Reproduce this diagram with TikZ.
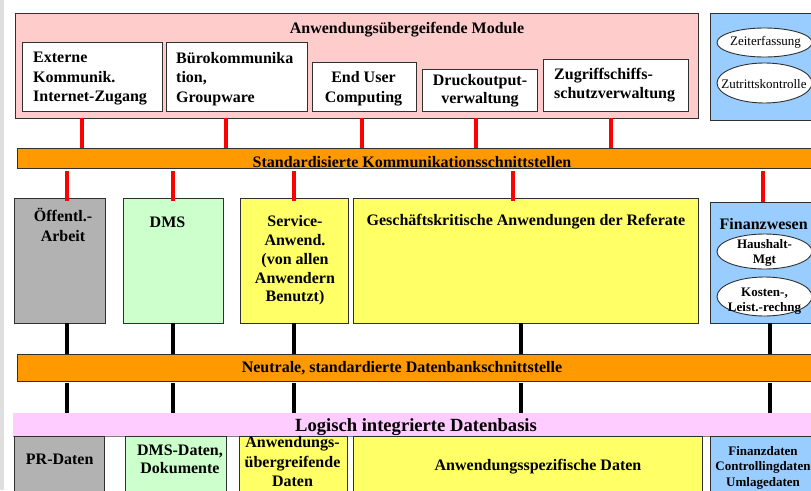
\documentclass[tikz,border=0pt]{standalone}
\usepackage{fontspec}
\setmainfont{Liberation Serif}
\usetikzlibrary{shapes.geometric}
\definecolor{pinkbg}{HTML}{FFCCCC}
\definecolor{bluebg}{HTML}{99CCFF}
\definecolor{orangebar}{HTML}{FF9900}
\definecolor{greybox}{HTML}{B2B2B2}
\definecolor{greenbox}{HTML}{CCFFCC}
\definecolor{yellowbox}{HTML}{FFFF66}
\definecolor{pinkband}{HTML}{FFCCFF}
\definecolor{edge}{HTML}{303030}
\begin{document}
\begin{tikzpicture}[x=1pt,y=-1pt,
  box/.style={draw=edge, line width=0.9pt, inner sep=0pt, outer sep=0pt, anchor=north west},
  ell/.style={ellipse, draw=edge, line width=0.9pt, fill=white, inner sep=0pt},
  lab/.style={font=\fontsize{16}{19.2}\selectfont\bfseries, inner sep=0pt},
  slab/.style={font=\fontsize{13}{15}\selectfont\bfseries, inner sep=0pt},
  rlab/.style={font=\fontsize{13}{15}\selectfont, inner sep=0pt},
  redc/.style={draw=red, line width=4.3pt},
  blkc/.style={draw=black, line width=4.3pt},
]
\useasboundingbox (0,0) rectangle (811,490);
\clip (0,0) rectangle (811,490);
\fill[gray!25] (0,0) rectangle (3.5,490);

% top row
\node[box, fill=pinkbg, minimum width=683, minimum height=105] (pk) at (15,13) {};
\node[box, fill=white, minimum width=140, minimum height=69] (ext) at (22,42) {};
\node[box, fill=white, minimum width=141, minimum height=69] (buero) at (166,42) {};
\node[box, fill=white, minimum width=104, minimum height=49] (euc) at (312,62) {};
\node[box, fill=white, minimum width=115, minimum height=42] (druck) at (422,69) {};
\node[box, fill=white, minimum width=145, minimum height=52] (zug) at (543,59) {};
\node[box, fill=bluebg, minimum width=110, minimum height=107] (bt) at (710,13) {};
\node[ell, minimum width=95, minimum height=29] (zeit) at (764.5,42.5) {};
\node[ell, minimum width=95, minimum height=40] (zutr) at (764.5,83) {};

\node[lab, anchor=base] (ttitle) at (407,33) {Anwendungsübergeifende Module};
\node[lab, anchor=west, align=left, font=\fontsize{16}{19.5}\selectfont\bfseries] (text) at (33,78.8) {Externe\\Kommunik.\\Internet-Zugang};
\node[lab, anchor=west, align=left, font=\fontsize{16}{19.5}\selectfont\bfseries] (tbuero) at (176,78.7) {Bürokommunika\\tion,\\Groupware};
\node[lab, align=center] (teuc) at (363.5,88.7) {End User\\Computing};
\node[lab, align=center, font=\fontsize{16}{18}\selectfont\bfseries] (tdruck) at (480,90.5) {Druckoutput-\\verwaltung};
\node[lab, anchor=west, align=left] (tzug) at (554,85.2) {Zugriffschiffs-\\schutzverwaltung};
\node[rlab, anchor=base] (tzeit) at (765.5,45.3) {Zeiterfassung};
\node[rlab, anchor=base] (tzutr) at (764,88.3) {Zutrittskontrolle};

% bar 1
\node[box, fill=orangebar, minimum width=800, minimum height=20] (bar1) at (17,148) {};
\node[lab, anchor=base] (tbar1) at (412,167.5) {Standardisierte Kommunikationsschnittstellen};

% middle row
\node[box, fill=greybox, minimum width=91, minimum height=125] (oef) at (14,198) {};
\node[box, fill=greenbox, minimum width=100, minimum height=125] (dms) at (123,198) {};
\node[box, fill=yellowbox, minimum width=108, minimum height=125] (serv) at (240,198) {};
\node[box, fill=yellowbox, minimum width=345, minimum height=125] (gesch) at (353,198) {};
\node[box, fill=bluebg, minimum width=110, minimum height=121] (fin) at (710,202) {};
\node[ell, minimum width=95, minimum height=35] (haus) at (764.5,251.5) {};
\node[ell, minimum width=95, minimum height=39] (kost) at (764.5,296.5) {};

\node[lab, align=center] (toef) at (63,224.9) {Öffentl.-\\Arbeit};
\node[lab, anchor=base] (tdms) at (167.5,227) {DMS};
\node[lab, align=center, font=\fontsize{16}{18.75}\selectfont\bfseries] (tserv) at (295,260.6) {Service-\\Anwend.\\(von allen\\Anwendern\\Benutzt)};
\node[lab, anchor=base] (tgesch) at (526,225.2) {Geschäftskritische Anwendungen der Referate};
\node[lab, anchor=base] (tfin) at (763.7,229.3) {Finanzwesen};
\node[slab, align=center] (thaus) at (764.5,253.4) {Haushalt-\\Mgt};
\node[slab, align=center] (tkost) at (764.5,301.4) {Kosten-,\\Leist.-rechng};

% bar 2
\node[box, fill=orangebar, minimum width=800, minimum height=27] (bar2) at (17,354) {};
\node[lab, anchor=base] (tbar2) at (402,372.7) {Neutrale, standardierte Datenbankschnittstelle};

% data band
\node[box, draw=none, fill=pinkband, minimum width=800, minimum height=23] (band) at (13,413) {};
\draw[draw=gray, line width=0.9pt] (band.south west) -- (band.south east);
\node[lab, anchor=base, font=\fontsize{18.6}{22}\selectfont\bfseries] (tband) at (416,431.5) {Logisch integrierte Datenbasis};

% bottom row
\node[box, fill=greybox, minimum width=90, minimum height=60] (pr) at (14,436) {};
\node[box, fill=greenbox, minimum width=101, minimum height=60] (dmsd) at (125,436) {};
\node[box, fill=yellowbox, minimum width=108, minimum height=60] (anwd) at (239,436) {};
\node[box, fill=yellowbox, minimum width=349, minimum height=60] (anwsp) at (353,436) {};
\node[box, fill=bluebg, minimum width=110, minimum height=60] (find) at (710,436) {};

\node[lab, anchor=base] (tpr) at (59.7,464) {PR-Daten};
\node[lab, align=center, font=\fontsize{16}{18}\selectfont\bfseries] (tdmsd) at (180,459.7) {DMS-Daten,\\Dokumente};
\node[lab, align=center, font=\fontsize{16}{19.5}\selectfont\bfseries] (tanwd) at (292.5,461.8) {Anwendungs-\\übergreifende\\Daten};
\node[lab, anchor=base] (tanwsp) at (538,470) {Anwendungsspezifische Daten};
\node[slab, align=center, font=\fontsize{13}{15.8}\selectfont\bfseries] (tfind) at (763,467.8) {Finanzdaten\\Controllingdaten\\Umlagedaten};

% connectors: modules -> bar1
\foreach \x in {82,226,362,476,611}
  \draw[redc] (\x,0 |- pk.south) -- (\x,0 |- bar1.north);
% bar1 -> applications
\draw[redc, shorten <=3pt, shorten >=-3pt] (67,0 |- bar1.south) -- (67,0 |- oef.north);
\draw[redc, shorten <=3pt, shorten >=-3pt] (173,0 |- bar1.south) -- (173,0 |- dms.north);
\draw[redc, shorten <=3pt, shorten >=-3pt] (294,0 |- bar1.south) -- (294,0 |- serv.north);
\draw[redc, shorten <=3pt, shorten >=-3pt] (513,0 |- bar1.south) -- (513,0 |- gesch.north);
\draw[redc, shorten <=3pt] (763,0 |- bar1.south) -- (763,0 |- fin.north);
% applications -> bar2
\draw[blkc] (67,0 |- oef.south) -- (67,0 |- bar2.north);
\draw[blkc] (173,0 |- dms.south) -- (173,0 |- bar2.north);
\draw[blkc] (294,0 |- serv.south) -- (294,0 |- bar2.north);
\draw[blkc] (521,0 |- gesch.south) -- (521,0 |- bar2.north);
\draw[blkc] (770,0 |- fin.south) -- (770,0 |- bar2.north);
% bar2 -> data band
\foreach \x in {67,173,294,521,770}
  \draw[blkc, shorten <=2pt] (\x,0 |- bar2.south) -- (\x,0 |- band.north);
\end{tikzpicture}
\end{document}
